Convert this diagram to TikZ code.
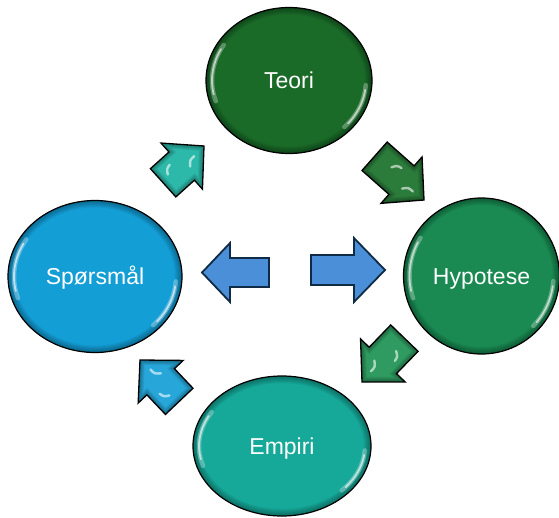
\documentclass[tikz,border=0pt]{standalone}
\usepackage{fontspec}
\setmainfont{Liberation Sans}
\usetikzlibrary{shapes.geometric}
\definecolor{cTeori}{HTML}{1B6B28}
\definecolor{cHyp}{HTML}{1A8A52}
\definecolor{cSpm}{HTML}{139ED6}
\definecolor{cEmp}{HTML}{16A898}
\definecolor{aTL}{HTML}{2DB9A9}
\definecolor{aTR}{HTML}{2B7B3B}
\definecolor{aBR}{HTML}{2F9B60}
\definecolor{aBL}{HTML}{27A7D9}
\definecolor{aMid}{HTML}{4A8FD8}
\definecolor{aMidLine}{HTML}{0F2B45}

% block arrow outline, tip at origin pointing along +x
% #1 head length, #2 head half width, #3 shaft half width, #4 total length
\newcommand\arrpath[4]{(0,0) -- (-#1,#2) -- (-#1,#3) -- (-#4,#3) -- (-#4,-#3) -- (-#1,-#3) -- (-#1,-#2) -- cycle}

% glossy diagonal arrow: #1 tip, #2 angle, #3 length, #4 fill
\newcommand\glossarrow[4]{%
  \begin{scope}[shift={#1}, rotate=#2]
    \fill[#4] \arrpath{30}{31}{19}{#3};
    \begin{scope}
      \clip \arrpath{30}{31}{19}{#3};
      \foreach \w in {2,4,6,8,10}
        \draw[black, opacity=0.07, line width=\w pt, line join=miter] \arrpath{30}{31}{19}{#3};
      \draw[white, opacity=0.6, line width=2.4pt, line cap=round] (-24,-6) .. controls (-20,-1) .. (-14,-1);
      \draw[white, opacity=0.6, line width=2.4pt, line cap=round] (-46,3) .. controls (-43,8) .. (-38,9);
    \end{scope}
    \draw[black, line width=1.3pt, line join=miter] \arrpath{30}{31}{19}{#3};
  \end{scope}}

% flat centre arrow: #1 tip, #2 angle, #3 head length, #4 head half width, #5 shaft half width, #6 length
\newcommand\flatarrow[6]{%
  \begin{scope}[shift={#1}, rotate=#2]
    \draw[fill=aMid, draw=aMidLine, line width=1.8pt, line join=miter] \arrpath{#3}{#4}{#5}{#6};
  \end{scope}}

\tikzset{
  bubble/.style n args={3}{ellipse, draw=black, line width=1.2pt, fill=#1,
    text=white, inner sep=0pt, text height=16.5pt, text depth=0pt,
    font=\fontsize{23}{27}\selectfont,
    minimum width={2*#2pt}, minimum height={2*#3pt},
    path picture={
      \foreach \w in {2,4,...,14}
        \draw[black, opacity=0.05, line width=\w pt]
          (path picture bounding box.center) ellipse [x radius=#2, y radius=#3];
      \pgfmathsetmacro\hrx{#2-6}\pgfmathsetmacro\hry{#3-6}
      \draw[white, opacity=0.3, line width=4.5pt, line cap=round]
        ([shift={(148:\hrx pt and \hry pt)}]path picture bounding box.center)
        arc[start angle=148, end angle=198, x radius=\hrx pt, y radius=\hry pt];
      \draw[white, opacity=0.6, line width=1.8pt, line cap=round]
        ([shift={(152:\hrx pt and \hry pt)}]path picture bounding box.center)
        arc[start angle=152, end angle=192, x radius=\hrx pt, y radius=\hry pt];
      \draw[white, opacity=0.3, line width=4.5pt, line cap=round]
        ([shift={(-4:\hrx pt and \hry pt)}]path picture bounding box.center)
        arc[start angle=-4, end angle=-44, x radius=\hrx pt, y radius=\hry pt];
      \draw[white, opacity=0.6, line width=1.8pt, line cap=round]
        ([shift={(-8:\hrx pt and \hry pt)}]path picture bounding box.center)
        arc[start angle=-8, end angle=-40, x radius=\hrx pt, y radius=\hry pt];
    }},
}

\begin{document}
\begin{tikzpicture}[x=1pt, y=1pt]
  \useasboundingbox (0,0) rectangle (559,-517);
  \fill[white] (0,0) rectangle (559,-517);

  \node[bubble={cTeori}{83}{73}] (teori) at (289,-80.5) {Teori};
  \node[bubble={cHyp}{78}{78}] (hyp) at (481.5,-276) {Hypotese};
  \node[bubble={cSpm}{87}{76}] (spm) at (95,-276.5) {Spørsmål};
  \node[bubble={cEmp}{89}{70}] (emp) at (282,-446) {Empiri};

  \glossarrow{(204,-146)}{42}{55}{aTL}
  \glossarrow{(424,-200)}{-41.5}{66}{aTR}
  \glossarrow{(362,-382)}{-134}{61}{aBR}
  \glossarrow{(140,-360)}{133.5}{57}{aBL}

  \flatarrow{(202,-272.5)}{180}{28}{29.5}{14.5}{67}
  \flatarrow{(385,-270)}{0}{31}{32}{15}{74}
\end{tikzpicture}
\end{document}
